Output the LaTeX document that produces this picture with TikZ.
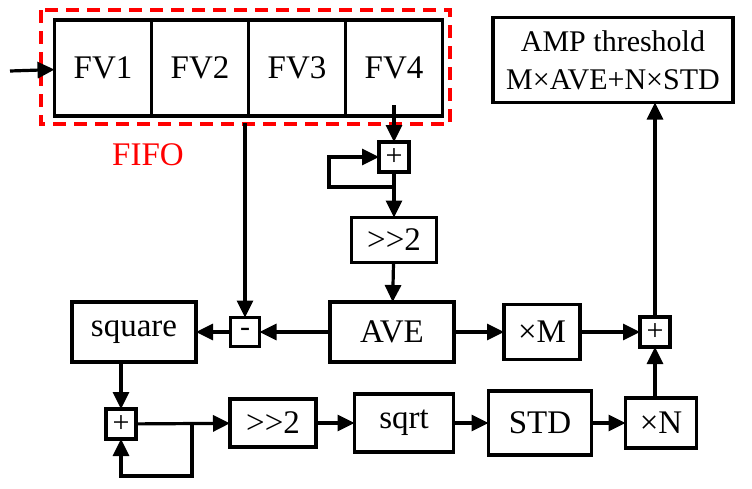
\documentclass[tikz,border=0pt]{standalone}
\usepackage{fontspec}
\setmainfont{Liberation Serif}
\usetikzlibrary{arrows.meta,positioning}
\tikzset{
	blk/.style={draw, line width=3.2pt, inner sep=0pt, outer sep=0pt, font=\fontsize{33}{40}\selectfont},
	sum/.style={blk, minimum width=30pt, minimum height=30pt, font=\fontsize{30}{30}\selectfont},
	link/.style={line width=3.2pt, -{Triangle[length=17pt,width=16pt]}}
}
\begin{document}
\begin{tikzpicture}[x=1pt,y=-1pt]
	\useasboundingbox (0,0) rectangle (752,488);

	% FIFO
	\draw[red, line width=3.2pt, dash pattern=on 13pt off 8pt] (41,10) rectangle (450,124);
	\node[red, font=\fontsize{33}{33}\selectfont] (fifo) at (148,155) {FIFO};
	\node[blk, minimum width=97pt, minimum height=96pt] (fv1) at (103,68) {FV1};
	\node[blk, minimum width=97pt, minimum height=96pt, right=0pt of fv1] (fv2) {FV2};
	\node[blk, minimum width=97pt, minimum height=96pt, right=0pt of fv2] (fv3) {FV3};
	\node[blk, minimum width=97pt, minimum height=96pt, right=0pt of fv3] (fv4) {FV4};
	\node[blk, minimum width=240pt, minimum height=85pt, align=center, font=\fontsize{30}{38}\selectfont] (amp) at (613,60) {AMP threshold\\M\texttimes AVE+N\texttimes STD};

	\node[sum] (add1) at (394,157) {+};
	\node[blk, minimum width=85pt, minimum height=45pt] (shr1) at (394,240) {{>}{>}2};
	\node[blk, minimum width=124pt, minimum height=60pt] (ave) at (392,332) {AVE};
	\node[sum, minimum width=29pt, minimum height=29pt] (sub) at (245,332) {-};
	\node[blk, minimum width=124pt, minimum height=60pt] (sq) at (134,332) {square};
	\node[blk, minimum width=76pt, minimum height=55pt] (mulm) at (542,332) {\texttimes M};
	\node[sum] (add2) at (655,332) {+};

	\node[sum] (add3) at (121,424) {+};
	\node[blk, minimum width=86pt, minimum height=48pt] (shr2) at (273,423) {{>}{>}2};
	\node[blk, minimum width=99pt, minimum height=58pt] (sqrt) at (404,423) {sqrt};
	\node[blk, minimum width=103pt, minimum height=64pt] (std) at (540,423) {STD};
	\node[blk, minimum width=71pt, minimum height=50pt] (muln) at (661,423) {\texttimes N};

	\coordinate (in) at (10,71);
	\coordinate (t3) at (245,123);
	\coordinate (t4) at (394,105);
	\coordinate (lp1) at (329,187);
	\coordinate (lp3) at (192,476);

	\draw[link] (in) -- (fv1);
	\draw[link] (t4) -- (add1);
	\draw[link] (add1) -- (shr1);
	\draw[link] (add1.south |- lp1) -- (lp1) |- (add1.west);
	\draw[link] (shr1) -- (ave);
	\draw[link] (t3) -- (sub);
	\draw[link] (ave) -- (sub);
	\draw[link] (sub) -- (sq);
	\draw[link] (sq.south -| add3) -- (add3);
	\draw[link] (add3) -- (shr2);
	\draw[link] (add3.east -| lp3) -- (lp3) -| (add3.south);
	\draw[link] (shr2) -- (sqrt);
	\draw[link] (sqrt) -- (std);
	\draw[link] (std) -- (muln);
	\draw[link] (ave) -- (mulm);
	\draw[link] (mulm) -- (add2);
	\draw[link] (muln.north -| add2) -- (add2);
	\draw[link] (add2) -- (amp.south -| add2);
\end{tikzpicture}
\end{document}
